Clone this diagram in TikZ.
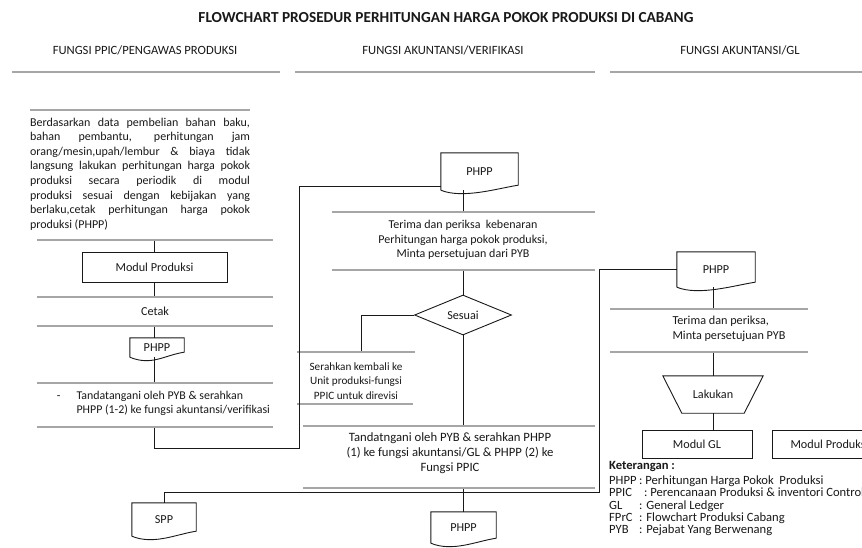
\documentclass[tikz,border=0pt]{standalone}
\usepackage{fontspec}
\setmainfont{Carlito}
\usetikzlibrary{shapes.geometric,calc}
\hyphenpenalty=10000
\exhyphenpenalty=10000

\begin{document}
\begin{tikzpicture}[
            x=1pt, y=-1pt,
            every node/.style={text=black!90, font=\fontsize{12.2}{14.5}\selectfont},
            flow/.style={draw=black!90, line width=0.9pt},
            box/.style={rectangle, draw=black!90, line width=0.9pt, inner sep=0pt},
            docnode/.style={rectangle, inner sep=0pt},
            sepline/.style={rectangle, fill=black!35, inner sep=0pt, minimum height=1.4pt},
            headtext/.style={font=\fontsize{12.6}{14}\selectfont},
        ]
            \useasboundingbox (0,0) rectangle (862,547);
            \fill[white] (0,0) rectangle (862,547);
            \clip (0,0) rectangle (862,547);

            % title and the three columns
            \node[font=\bfseries\fontsize{15.3}{18}\selectfont] (title) at (446,18) {FLOWCHART PROSEDUR PERHITUNGAN HARGA POKOK PRODUKSI DI CABANG};
            \node[headtext] (hPPIC) at (145,50) {FUNGSI PPIC/PENGAWAS PRODUKSI};
            \node[headtext] (hVer) at (443,50) {FUNGSI AKUNTANSI/VERIFIKASI};
            \node[headtext] (hGL) at (740,50) {FUNGSI AKUNTANSI/GL};
            \node[sepline, minimum width=268pt] (sH1) at (146,72) {};
            \node[sepline, minimum width=300pt] (sH2) at (445,72) {};
            \node[sepline, minimum width=252pt] (sH3) at (736,72) {};

            % PPIC
            \node[sepline, minimum width=220pt] (sL0) at (140,110) {};
            \node[text width=220pt, align=justify, inner sep=0pt, font=\fontsize{12}{14.6}\selectfont] (paraP) at (140,174) {Berdasarkan data pembelian bahan baku,\linebreak bahan pembantu, perhitungan jam\linebreak orang/mesin,upah/lembur \& biaya tidak\linebreak langsung lakukan perhitungan harga pokok\linebreak produksi secara periodik di modul\linebreak produksi sesuai dengan kebijakan yang\linebreak berlaku,cetak perhitungan harga pokok\linebreak produksi (PHPP)};
            \node[sepline, minimum width=236pt] (sL1) at (155,240) {};
            \node[box, minimum width=145pt, minimum height=30pt] (modulP) at (154.5,267) {Modul Produksi};
            \node[sepline, minimum width=236pt] (sL2) at (155,297) {};
            \node (cetak) at (155,311) {Cetak};
            \node[sepline, minimum width=236pt] (sL3) at (155,326) {};
            \node[docnode, minimum width=54pt, minimum height=19pt] (phppA) at (157,347.5) {PHPP};
            \node[sepline, minimum width=236pt] (sL4) at (155,383) {};
            \node[align=left, anchor=west, font=\fontsize{11.9}{14}\selectfont] (ttdA) at (73,403) {\llap{-\hspace{16pt}}Tandatangani oleh PYB \& serahkan\\PHPP (1-2) ke fungsi akuntansi/verifikasi};
            \node[sepline, minimum width=236pt] (sL5) at (155,427) {};
            \node[docnode, minimum width=64pt, minimum height=33pt] (spp) at (164,519.5) {SPP};

            % verifikasi
            \node[docnode, minimum width=77pt, minimum height=37pt] (phppB) at (479.5,171.5) {PHPP};
            \node[sepline, minimum width=263pt] (sM1) at (463.5,212) {};
            \node[align=center, font=\fontsize{12}{14.5}\selectfont] (terimaB) at (463,240) {Terima dan periksa\ \ kebenaran\\Perhitungan harga pokok produksi,\\Minta persetujuan dari PYB};
            \node[sepline, minimum width=263pt] (sM2) at (463.5,270) {};
            \node[diamond, draw=black!90, line width=0.9pt, aspect=2.4, minimum width=97pt, minimum height=40pt, inner sep=0pt] (sesuai) at (463,315) {Sesuai};
            \node[sepline, minimum width=118pt] (sM3) at (356,352) {};
            \node[align=center, font=\fontsize{11.2}{14.5}\selectfont] (serahkan) at (356,381) {Serahkan kembali ke\\Unit produksi-fungsi\\PPIC untuk direvisi};
            \node[sepline, minimum width=116pt] (sM4) at (355,404) {};
            \node[sepline, minimum width=292pt] (sM5) at (449,426) {};
            \node[align=center, font=\fontsize{12.7}{15}\selectfont] (ttdB) at (450,453) {Tandatngani oleh PYB \& serahkan PHPP\\(1) ke fungsi akuntansi/GL \& PHPP (2) ke\\Fungsi PPIC};
            \node[sepline, minimum width=292pt] (sM6) at (449,488) {};
            \node[docnode, minimum width=65pt, minimum height=31pt] (phppC) at (463.5,527.5) {PHPP};

            % GL
            \node[docnode, minimum width=78pt, minimum height=35pt] (phppD) at (716,269.5) {PHPP};
            \node[sepline, minimum width=198pt] (sR1) at (709,309) {};
            \node[align=left, anchor=west] (terimaD) at (669,329) {Terima dan periksa,\\Minta persetujuan PYB};
            \node[sepline, minimum width=198pt] (sR2) at (709,352) {};
            \node[minimum width=100pt, minimum height=37pt, inner sep=0pt] (trap) at (713,394.5) {Lakukan};
            \node[box, minimum width=110pt, minimum height=28pt] (modGL) at (697,444) {Modul GL};
            \node[box, minimum width=114pt, minimum height=28pt, anchor=west] (modPR) at (772,444) {Modul Produksi};
            \node[anchor=north west, inner sep=0pt, font=\fontsize{12.6}{11.6}\selectfont] (ket) at (609,461) {%
                \begin{tabular}{@{}p{30pt}@{}l}
                    \multicolumn{2}{@{}l}{\bfseries Keterangan :}\\[3pt]
                    PHPP & :\ Perhitungan Harga Pokok\ \ Produksi\\
                    PPIC & \hspace{5pt}:\ Perencanaan Produksi \& inventori Control\\
                    GL & : General Ledger\\
                    FPrC & : Flowchart Produksi Cabang\\
                    PYB & : Pejabat Yang Berwenang
                \end{tabular}};

            % shapes of the documents and the manual step
            \foreach \d in {phppA,phppB,phppC,phppD,spp}
                \draw[flow] (\d.south west) -- (\d.north west) -- (\d.north east) -- ([yshift=5pt]\d.south east) .. controls +(-20,3) and +(22,9) .. (\d.south west);
            \draw[flow] (trap.north west) -- (trap.north east) -- ([xshift=-19pt]trap.south east) -- ([xshift=19pt]trap.south west) -- cycle;

            % connectors
            \coordinate (loopL) at (299,448);
            \coordinate (busR) at (599,492);
            \draw[flow] (sL1.south -| modulP) -- (modulP.north);
            \draw[flow] (modulP.south) -- (modulP.south |- sL2.north);
            \draw[flow] (sL3.south -| modulP) -- (phppA.north -| modulP);
            \draw[flow] (phppA.south -| modulP) -- (sL4.north -| modulP);
            \draw[flow] (sL5.south -| modulP) |- (loopL) |- ([yshift=4pt]phppB.south west);
            \draw[flow] (phppB.south -| sesuai) -- (sM1.north -| sesuai);
            \draw[flow] (sM2.south -| sesuai) -- (sesuai.north);
            \draw[flow] (sesuai.west) -| ([xshift=5pt]sM3.north);
            \draw[flow] (sesuai.south) -- (sesuai.south |- sM5.north);
            \draw[flow] (sM6.south -| sesuai) -- (phppC.north -| sesuai);
            \draw[flow] (spp.north) |- (busR) |- (phppD.west);
            \draw[flow] (phppD.south -| trap) -- (sR1.north -| trap);
            \draw[flow] (sR2.south -| trap) -- (trap.north);
            \draw[flow] (trap.south) -- (trap.south |- modGL.north);

        \end{tikzpicture}
\end{document}
